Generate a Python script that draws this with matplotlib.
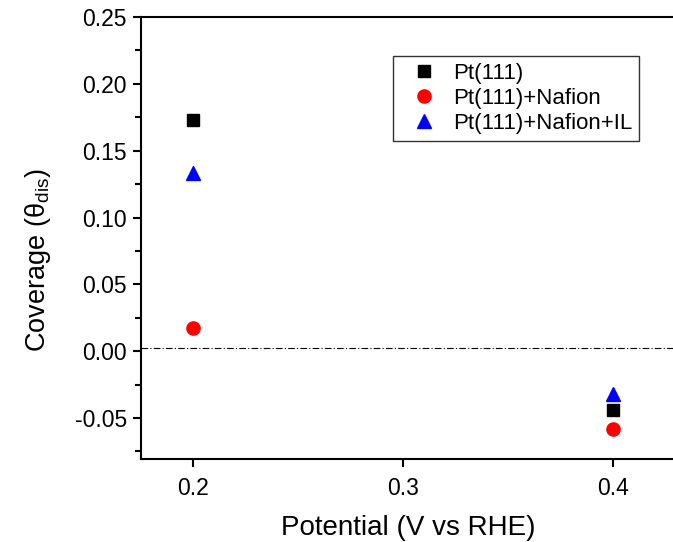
import numpy as np
import matplotlib.pyplot as plt
from matplotlib.ticker import MultipleLocator

plt.rcParams['font.family'] = ['Liberation Sans', 'DejaVu Sans']
plt.rcParams['mathtext.fontset'] = 'custom'
plt.rcParams['mathtext.rm'] = 'Liberation Sans'
plt.rcParams['mathtext.it'] = 'Liberation Sans'

# data
potential = [0.2, 0.4]
pt111 = [0.173, -0.0437]
pt111_nafion = [0.017, -0.0586]
pt111_nafion_il = [0.133, -0.0324]
baseline = 0.0025

fig = plt.figure(figsize=(6.73, 5.42), dpi=100)
ax = fig.add_axes([0.2095, 0.1531, 0.7957, 0.8155])

ax.plot(potential, pt111, 's', color='black', markersize=8.5, label='Pt(111)')
ax.plot(potential, pt111_nafion, 'o', color='red', markersize=9.5, label='Pt(111)+Nafion')
ax.plot(potential, pt111_nafion_il, '^', color='blue', markersize=10.5, label='Pt(111)+Nafion+IL')
ax.axhline(baseline, color='black', lw=0.8, ls=(0, (6, 2, 1, 2)))

ax.set_xlim(0.175, 0.43)
ax.set_ylim(-0.0807, 0.25)
ax.xaxis.set_major_locator(MultipleLocator(0.1))
ax.yaxis.set_major_locator(MultipleLocator(0.05))
ax.yaxis.set_minor_locator(MultipleLocator(0.025))
ax.yaxis.set_major_formatter(plt.FuncFormatter(lambda v, p: '%.2f' % v))

for s in ax.spines.values():
    s.set_linewidth(1.5)
ax.tick_params(axis='both', which='major', direction='out', length=6, width=1.5,
               labelsize=16.5)
ax.tick_params(axis='y', which='minor', direction='out', length=4, width=1.5)
ax.tick_params(axis='y', pad=4)
ax.tick_params(axis='x', pad=7)

ax.set_xlabel('Potential (V vs RHE)', fontsize=20, labelpad=11)
ax.set_ylabel(r'Coverage ($\mathregular{\theta_{dis}}$)', fontsize=19.5)
ax.yaxis.set_label_coords(-0.165, 0.45)

leg = ax.legend(loc='upper left', bbox_to_anchor=(0.47, 0.911), fontsize=16,
                frameon=True, fancybox=False, edgecolor='black', handletextpad=0.2,
                borderpad=0.3, labelspacing=0.18, handlelength=2.2, numpoints=1,
                borderaxespad=0)
leg.get_frame().set_linewidth(1.0)

fig.savefig('out.png', dpi=100)
